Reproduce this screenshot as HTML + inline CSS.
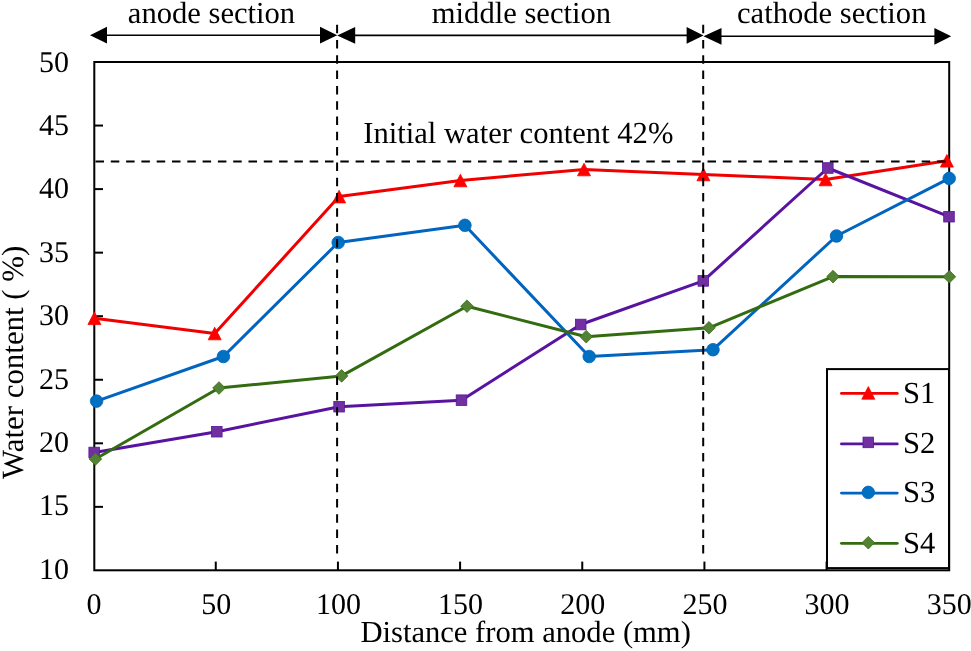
<!DOCTYPE html><html><head><meta charset="utf-8"><style>html,body{margin:0;padding:0;background:#fff;}svg{display:block;filter:blur(0.25px);}text{font-family:"Liberation Serif",serif;fill:#000;text-rendering:geometricPrecision;}</style></head><body>
<svg width="971" height="651" viewBox="0 0 971 651">
<rect width="971" height="651" fill="#fff"/>
<text x="127.8" y="23.4" font-size="30.6">anode section</text>
<text x="431.8" y="23.4" font-size="30.6">middle section</text>
<text x="737" y="22.8" font-size="30.6">cathode section</text>
<line x1="106" y1="35.2" x2="321.0" y2="35.2" stroke="#000" stroke-width="1.6"/><polygon points="90,35.2 107,26.800000000000004 107,43.6" fill="#000"/><polygon points="337.2,35.2 320.0,26.800000000000004 320.0,43.6" fill="#000"/>
<line x1="354.2" y1="35.4" x2="687.6" y2="35.4" stroke="#000" stroke-width="1.6"/><polygon points="337.2,35.4 355.2,27.0 355.2,43.8" fill="#000"/><polygon points="703.5,35.4 686.6,27.0 686.6,43.8" fill="#000"/>
<line x1="720.5" y1="36.3" x2="935.4000000000001" y2="36.3" stroke="#000" stroke-width="1.6"/><polygon points="703.5,36.3 721.5,27.9 721.5,44.699999999999996" fill="#000"/><polygon points="951.2,36.3 934.4000000000001,27.9 934.4000000000001,44.699999999999996" fill="#000"/>
<rect x="94.3" y="62" width="854.9" height="508.3" fill="none" stroke="#000" stroke-width="2"/>
<line x1="94.3" y1="506.85" x2="103" y2="506.85" stroke="#000" stroke-width="2"/>
<line x1="94.3" y1="443.30" x2="103" y2="443.30" stroke="#000" stroke-width="2"/>
<line x1="94.3" y1="379.75" x2="103" y2="379.75" stroke="#000" stroke-width="2"/>
<line x1="94.3" y1="316.20" x2="103" y2="316.20" stroke="#000" stroke-width="2"/>
<line x1="94.3" y1="252.65" x2="103" y2="252.65" stroke="#000" stroke-width="2"/>
<line x1="94.3" y1="189.10" x2="103" y2="189.10" stroke="#000" stroke-width="2"/>
<line x1="94.3" y1="125.55" x2="103" y2="125.55" stroke="#000" stroke-width="2"/>
<line x1="215.76" y1="570.3" x2="215.76" y2="561.6" stroke="#000" stroke-width="2"/>
<line x1="337.93" y1="570.3" x2="337.93" y2="561.6" stroke="#000" stroke-width="2"/>
<line x1="460.09" y1="570.3" x2="460.09" y2="561.6" stroke="#000" stroke-width="2"/>
<line x1="582.26" y1="570.3" x2="582.26" y2="561.6" stroke="#000" stroke-width="2"/>
<line x1="704.42" y1="570.3" x2="704.42" y2="561.6" stroke="#000" stroke-width="2"/>
<line x1="826.59" y1="570.3" x2="826.59" y2="561.6" stroke="#000" stroke-width="2"/>
<text x="69" y="578.7" font-size="30" text-anchor="end">10</text>
<text x="69" y="515.3" font-size="30" text-anchor="end">15</text>
<text x="69" y="451.9" font-size="30" text-anchor="end">20</text>
<text x="69" y="388.6" font-size="30" text-anchor="end">25</text>
<text x="69" y="325.2" font-size="30" text-anchor="end">30</text>
<text x="69" y="261.8" font-size="30" text-anchor="end">35</text>
<text x="69" y="198.4" font-size="30" text-anchor="end">40</text>
<text x="69" y="135.1" font-size="30" text-anchor="end">45</text>
<text x="69" y="71.7" font-size="30" text-anchor="end">50</text>
<text x="94.1" y="613.6" font-size="30" text-anchor="middle">0</text>
<text x="216.3" y="613.6" font-size="30" text-anchor="middle">50</text>
<text x="338.4" y="613.6" font-size="30" text-anchor="middle">100</text>
<text x="460.6" y="613.6" font-size="30" text-anchor="middle">150</text>
<text x="582.8" y="613.6" font-size="30" text-anchor="middle">200</text>
<text x="704.9" y="613.6" font-size="30" text-anchor="middle">250</text>
<text x="827.1" y="613.6" font-size="30" text-anchor="middle">300</text>
<text x="949.3" y="613.6" font-size="30" text-anchor="middle">350</text>
<text x="360.4" y="642.4" font-size="30.6">Distance from anode (mm)</text>
<text transform="translate(22.8,479.0) rotate(-90)" x="0" y="0" font-size="30.9">Water content ( %)</text>
<text x="363.3" y="142.9" font-size="30.6">Initial water content 42%</text>
<polyline points="94.4,318.3 214.7,333.5 339.1,196.6 460.4,180.5 584.0,169.5 703.4,174.5 825.6,179.5 946.9,160.8" fill="none" stroke="#f00000" stroke-width="3" stroke-linejoin="round" stroke-linecap="round"/>
<polygon points="94.4,312.0 100.9,324.6 87.9,324.6" fill="#ff0000" stroke="#ff0000" stroke-width="0.8" stroke-linejoin="round"/>
<polygon points="214.7,327.2 221.2,339.8 208.2,339.8" fill="#ff0000" stroke="#ff0000" stroke-width="0.8" stroke-linejoin="round"/>
<polygon points="339.1,190.3 345.6,202.9 332.6,202.9" fill="#ff0000" stroke="#ff0000" stroke-width="0.8" stroke-linejoin="round"/>
<polygon points="460.4,174.2 466.9,186.8 453.9,186.8" fill="#ff0000" stroke="#ff0000" stroke-width="0.8" stroke-linejoin="round"/>
<polygon points="584.0,163.2 590.5,175.8 577.5,175.8" fill="#ff0000" stroke="#ff0000" stroke-width="0.8" stroke-linejoin="round"/>
<polygon points="703.4,168.2 709.9,180.8 696.9,180.8" fill="#ff0000" stroke="#ff0000" stroke-width="0.8" stroke-linejoin="round"/>
<polygon points="825.6,173.2 832.1,185.8 819.1,185.8" fill="#ff0000" stroke="#ff0000" stroke-width="0.8" stroke-linejoin="round"/>
<polygon points="946.9,154.5 953.4,167.1 940.4,167.1" fill="#ff0000" stroke="#ff0000" stroke-width="0.8" stroke-linejoin="round"/>
<polyline points="94.2,452.5 216.8,431.7 339.1,406.7 461.5,400.2 580.7,324.5 703.3,280.9 827.8,168.0 949.0,216.7" fill="none" stroke="#5814a0" stroke-width="3" stroke-linejoin="round" stroke-linecap="round"/>
<rect x="88.9" y="447.2" width="10.6" height="10.6" fill="#7030a0" stroke="#5814a0" stroke-width="0.8"/>
<rect x="211.5" y="426.4" width="10.6" height="10.6" fill="#7030a0" stroke="#5814a0" stroke-width="0.8"/>
<rect x="333.8" y="401.4" width="10.6" height="10.6" fill="#7030a0" stroke="#5814a0" stroke-width="0.8"/>
<rect x="456.2" y="394.9" width="10.6" height="10.6" fill="#7030a0" stroke="#5814a0" stroke-width="0.8"/>
<rect x="575.4" y="319.2" width="10.6" height="10.6" fill="#7030a0" stroke="#5814a0" stroke-width="0.8"/>
<rect x="698.0" y="275.6" width="10.6" height="10.6" fill="#7030a0" stroke="#5814a0" stroke-width="0.8"/>
<rect x="822.5" y="162.7" width="10.6" height="10.6" fill="#7030a0" stroke="#5814a0" stroke-width="0.8"/>
<rect x="943.7" y="211.4" width="10.6" height="10.6" fill="#7030a0" stroke="#5814a0" stroke-width="0.8"/>
<polyline points="96.6,401.1 223.4,356.5 338.2,242.5 464.9,225.3 589.2,356.5 713.0,349.7 836.5,236.0 949.2,178.4" fill="none" stroke="#0064c0" stroke-width="3" stroke-linejoin="round" stroke-linecap="round"/>
<circle cx="96.6" cy="401.1" r="6.3" fill="#0070c0" stroke="#0064c0" stroke-width="0.8"/>
<circle cx="223.4" cy="356.5" r="6.3" fill="#0070c0" stroke="#0064c0" stroke-width="0.8"/>
<circle cx="338.2" cy="242.5" r="6.3" fill="#0070c0" stroke="#0064c0" stroke-width="0.8"/>
<circle cx="464.9" cy="225.3" r="6.3" fill="#0070c0" stroke="#0064c0" stroke-width="0.8"/>
<circle cx="589.2" cy="356.5" r="6.3" fill="#0070c0" stroke="#0064c0" stroke-width="0.8"/>
<circle cx="713.0" cy="349.7" r="6.3" fill="#0070c0" stroke="#0064c0" stroke-width="0.8"/>
<circle cx="836.5" cy="236.0" r="6.3" fill="#0070c0" stroke="#0064c0" stroke-width="0.8"/>
<circle cx="949.2" cy="178.4" r="6.3" fill="#0070c0" stroke="#0064c0" stroke-width="0.8"/>
<polyline points="95.4,459.0 219.0,388.0 341.6,375.9 467.0,306.2 586.2,336.7 709.0,327.8 833.0,276.6 949.4,276.7" fill="none" stroke="#336c10" stroke-width="3" stroke-linejoin="round" stroke-linecap="round"/>
<polygon points="95.4,452.7 101.7,459.0 95.4,465.3 89.1,459.0" fill="#548235" stroke="#336c10" stroke-width="0.8" stroke-linejoin="miter"/>
<polygon points="219.0,381.7 225.3,388.0 219.0,394.3 212.7,388.0" fill="#548235" stroke="#336c10" stroke-width="0.8" stroke-linejoin="miter"/>
<polygon points="341.6,369.6 347.9,375.9 341.6,382.2 335.3,375.9" fill="#548235" stroke="#336c10" stroke-width="0.8" stroke-linejoin="miter"/>
<polygon points="467.0,299.9 473.3,306.2 467.0,312.5 460.7,306.2" fill="#548235" stroke="#336c10" stroke-width="0.8" stroke-linejoin="miter"/>
<polygon points="586.2,330.4 592.5,336.7 586.2,343.0 579.9,336.7" fill="#548235" stroke="#336c10" stroke-width="0.8" stroke-linejoin="miter"/>
<polygon points="709.0,321.5 715.3,327.8 709.0,334.1 702.7,327.8" fill="#548235" stroke="#336c10" stroke-width="0.8" stroke-linejoin="miter"/>
<polygon points="833.0,270.3 839.3,276.6 833.0,282.9 826.7,276.6" fill="#548235" stroke="#336c10" stroke-width="0.8" stroke-linejoin="miter"/>
<polygon points="949.4,270.4 955.7,276.7 949.4,283.0 943.1,276.7" fill="#548235" stroke="#336c10" stroke-width="0.8" stroke-linejoin="miter"/>
<line x1="95.5" y1="161.4" x2="949" y2="161.4" stroke="#000" stroke-width="2" stroke-dasharray="8.5 6.8"/>
<line x1="337.1" y1="24.7" x2="337.1" y2="555" stroke="#000" stroke-width="2" stroke-dasharray="8.5 6.8"/>
<line x1="703.2" y1="24.7" x2="703.2" y2="555" stroke="#000" stroke-width="2" stroke-dasharray="8.5 6.8"/>
<rect x="827" y="369.1" width="122" height="199" fill="#fff" stroke="#000" stroke-width="2"/>
<line x1="841.4" y1="393.4" x2="897.3" y2="393.4" stroke="#f00000" stroke-width="2.75" stroke-linecap="round"/>
<polygon points="868.3,386.6 874.8,399.2 861.8,399.2" fill="#ff0000" stroke="#ff0000" stroke-width="0.8" stroke-linejoin="round"/>
<text x="903" y="402.7" font-size="30.6">S1</text>
<line x1="841.4" y1="443.9" x2="897.3" y2="443.9" stroke="#5814a0" stroke-width="2.75" stroke-linecap="round"/>
<rect x="863.0" y="437.1" width="10.6" height="10.6" fill="#7030a0" stroke="#5814a0" stroke-width="0.8"/>
<text x="903" y="453.2" font-size="30.6">S2</text>
<line x1="841.4" y1="493.1" x2="897.3" y2="493.1" stroke="#0064c0" stroke-width="2.75" stroke-linecap="round"/>
<circle cx="868.3" cy="492.4" r="6.3" fill="#0070c0" stroke="#0064c0" stroke-width="0.8"/>
<text x="903" y="502.4" font-size="30.6">S3</text>
<line x1="841.4" y1="543.3" x2="897.3" y2="543.3" stroke="#336c10" stroke-width="2.75" stroke-linecap="round"/>
<polygon points="868.3,536.4 874.6,542.7 868.3,549.0 862.0,542.7" fill="#548235" stroke="#336c10" stroke-width="0.8" stroke-linejoin="miter"/>
<text x="903" y="552.6" font-size="30.6">S4</text>
</svg></body></html>
